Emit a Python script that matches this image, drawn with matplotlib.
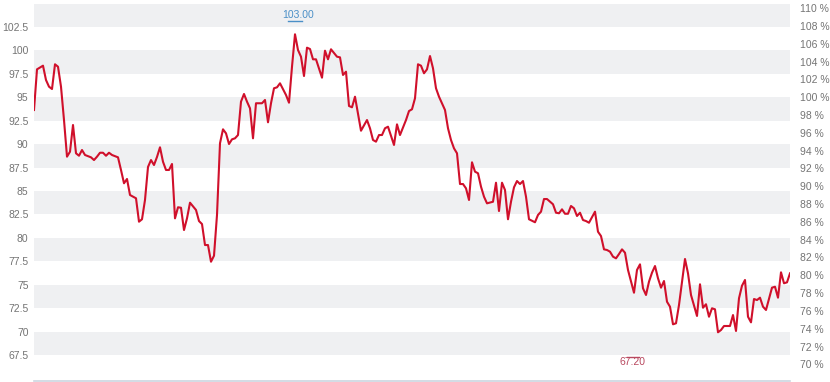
import numpy as np
import matplotlib.pyplot as plt
from matplotlib.transforms import blended_transform_factory

# trading day index and closing price
days = [0, 1, 3, 4, 5, 6, 7, 8, 9, 10, 11, 12, 13, 14, 15, 16, 17, 19, 20, 21,
        22, 23, 24, 25, 26, 28, 29, 30, 31, 32, 33, 34, 35, 36, 37, 38, 39, 40, 41, 42,
        43, 44, 45, 46, 47, 48, 49, 50, 51, 52, 54, 55, 56, 57, 58, 59, 60, 61, 62, 63,
        64, 65, 66, 67, 68, 69, 70, 71, 72, 73, 74, 76, 77, 78, 79, 80, 81, 82, 84, 85,
        86, 87, 88, 89, 90, 91, 92, 93, 94, 96, 97, 98, 99, 101, 102, 103, 104, 105, 106, 107,
        109, 111, 112, 113, 114, 115, 116, 117, 118, 120, 121, 122, 124, 125, 126, 127, 128, 129, 130, 131,
        132, 133, 134, 135, 136, 137, 138, 139, 140, 141, 142, 143, 144, 145, 146, 147, 148, 149, 150, 151,
        153, 154, 155, 156, 157, 158, 159, 160, 161, 162, 163, 164, 165, 167, 168, 169, 170, 171, 173, 174,
        175, 176, 177, 178, 179, 180, 181, 182, 183, 184, 185, 187, 188, 189, 190, 191, 192, 193, 194, 195,
        196, 197, 198, 200, 201, 202, 203, 204, 205, 206, 207, 208, 209, 210, 211, 212, 213, 214, 215, 216,
        217, 218, 219, 221, 222, 223, 224, 225, 226, 227, 228, 229, 230, 231, 232, 233, 234, 235, 236, 237,
        238, 239, 240, 241, 242, 243, 244, 246, 247, 248, 249, 250, 251, 252]
precio = [93.64, 97.98, 98.37, 96.84, 96.13, 95.88, 98.52, 98.26, 96.13, 92.57,
          88.66, 89.19, 92.04, 89.02, 88.76, 89.37, 88.84, 88.59, 88.30, 88.66,
          89.08, 89.08, 88.76, 89.08, 88.84, 88.59, 87.24, 85.82, 86.28, 84.57,
          84.39, 84.22, 81.72, 81.98, 84.04, 87.56, 88.30, 87.77, 88.63, 89.66,
          88.12, 87.24, 87.24, 87.88, 82.08, 83.26, 83.21, 80.83, 82.08, 83.75,
          82.97, 81.79, 81.47, 79.23, 79.23, 77.45, 78.09, 82.44, 90.09, 91.58,
          91.15, 90.01, 90.51, 90.62, 90.97, 94.53, 95.35, 94.53, 93.82, 90.62,
          94.36, 94.36, 94.71, 92.33, 94.36, 95.96, 96.06, 96.49, 95.24, 94.42,
          98.26, 101.72, 100.04, 99.33, 97.27, 100.29, 100.15, 99.05, 99.05, 97.09,
          99.97, 99.05, 100.12, 99.33, 99.26, 97.38, 97.73, 94.07, 93.93, 95.06,
          91.43, 92.57, 91.69, 90.44, 90.26, 90.97, 90.97, 91.69, 91.86, 89.91,
          92.11, 90.97, 92.57, 93.53, 93.72, 94.89, 98.52, 98.37, 97.56, 97.98,
          99.40, 98.09, 95.96, 95.06, 94.36, 93.64, 91.69, 90.44, 89.55, 89.02,
          85.74, 85.74, 85.28, 84.04, 88.06, 87.06, 86.89, 85.46, 84.39, 83.68,
          83.85, 85.88, 82.86, 85.88, 85.10, 81.98, 83.85, 85.39, 86.06, 85.74,
          86.06, 84.39, 81.98, 81.66, 82.44, 82.79, 84.14, 84.14, 83.58, 82.68,
          82.62, 83.04, 82.57, 82.57, 83.40, 83.15, 82.33, 82.68, 81.90, 81.79,
          81.61, 82.79, 80.65, 80.19, 78.77, 78.70, 78.52, 77.99, 77.81, 78.27,
          78.77, 78.41, 76.57, 74.14, 76.57, 77.17, 74.61, 73.90, 75.32, 76.28,
          76.99, 75.68, 74.68, 75.39, 73.18, 72.65, 70.77, 70.88, 72.83, 75.32,
          77.74, 76.21, 73.90, 71.66, 75.04, 72.54, 72.91, 71.58, 72.48, 72.37,
          69.92, 70.16, 70.59, 70.59, 70.59, 71.76, 70.06, 73.55, 74.89, 75.50,
          71.58, 70.98, 73.47, 73.36, 73.61, 72.65, 72.30, 74.68, 74.78, 73.61,
          76.32, 75.15, 75.25, 76.21]

precio_base = 95.0            # 100 % en el eje derecho
etiqueta_max = "103.00"
etiqueta_min = "67.20"
dia_min = 200
ticks_izq = [67.5, 70, 72.5, 75, 77.5, 80, 82.5, 85, 87.5, 90, 92.5, 95, 97.5, 100, 102.5]
ticks_der = list(range(70, 111, 2))

y_min, y_max = 64.72, 105.38

fig = plt.figure(figsize=(8.3, 3.82), dpi=100)
ax = fig.add_axes([34 / 830, 1 / 382, 756 / 830, 381 / 382])
ax.set_xlim(min(days), max(days))
ax.set_ylim(y_min, y_max)

# bandas grises
for b in np.arange(67.5, 105, 5):
    ax.axhspan(b, b + 2.5, color='#eff0f2', lw=0, zorder=0)

ax.plot(days, precio, color='#d0102b', lw=1.5, zorder=3)

ax.set_xticks([])
ax.set_yticks(ticks_izq)
ax.set_yticklabels([f"{t:g}" for t in ticks_izq])
ax.tick_params(axis='y', length=0, pad=4, labelsize=7.5, labelcolor='#747474')
for s in ['top', 'right', 'left']:
    ax.spines[s].set_visible(False)
ax.spines['bottom'].set_color('#ccd6e0')
ax.spines['bottom'].set_linewidth(1.2)

ax2 = ax.twinx()
ax2.set_ylim(y_min / precio_base * 100, y_max / precio_base * 100)
ax2.set_yticks(ticks_der)
ax2.set_yticklabels([f"{t} %" for t in ticks_der])
ax2.tick_params(axis='y', length=0, pad=7, labelsize=7.5, labelcolor='#747474')
for s in ax2.spines.values():
    s.set_visible(False)

for a in (ax, ax2):
    for lab in a.get_yticklabels():
        lab.set_family('Liberation Sans')

# etiquetas de máximo y mínimo
tr = blended_transform_factory(ax.transData, ax.transAxes)
dia_max = days[int(np.argmax(precio))]
ax.text(dia_max + 1, 0.961, etiqueta_max, transform=tr, ha='center', va='center',
        fontsize=7.5, color='#4a8fc7', family='Liberation Sans')
ax.plot([dia_max - 2.3, dia_max + 2.3], [0.945, 0.945], transform=tr, color='#4a8fc7', lw=1)
ax.text(dia_min - 0.5, 0.05, etiqueta_min, transform=tr, ha='center', va='center',
        fontsize=7.5, color='#b8485f', family='Liberation Sans')
ax.plot([dia_min - 2.5, dia_min + 1.5], [0.063, 0.063], transform=tr, color='#b8485f', lw=1)

fig.savefig('out.png', dpi=100)
